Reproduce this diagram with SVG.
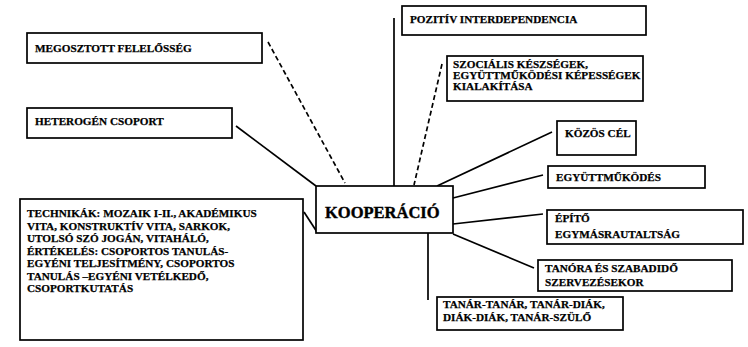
<svg xmlns="http://www.w3.org/2000/svg" width="748" height="347" viewBox="0 0 748 347">
<style>
.box{fill:#fff;stroke:#000;stroke-width:1.7}
.t{font-family:"Liberation Serif","Times New Roman",serif;font-weight:bold;font-size:11.2px;fill:#000;stroke:#000;stroke-width:0.25}
.big{font-size:16.5px;stroke-width:0.4}
.c{stroke:#000;stroke-width:1.7;fill:none}
.d{stroke-dasharray:5 3}
</style>
<rect width="748" height="347" fill="#fff"/>
<g id="connectors">
<line class="c d" x1="268" y1="42" x2="345" y2="183"/>
<line class="c" x1="236" y1="126" x2="316" y2="186"/>
<line class="c" x1="304" y1="212" x2="317" y2="232"/>
<line class="c" x1="394" y1="18" x2="394" y2="186"/>
<line class="c d" x1="442" y1="64" x2="414" y2="185"/>
<line class="c" x1="552" y1="132" x2="437" y2="186"/>
<line class="c" x1="543" y1="175" x2="453" y2="198"/>
<line class="c" x1="543" y1="214" x2="453" y2="224"/>
<line class="c" x1="453" y1="234" x2="534" y2="268"/>
<line class="c" x1="428" y1="233" x2="428" y2="300"/>
</g>
<g id="kooperacio">
<rect class="box" x="316" y="186" width="137" height="47"/>
<text class="t big" x="325" y="218">KOOPERÁCIÓ</text>
</g>
<g id="megosztott">
<rect class="box" x="27" y="33" width="235" height="30"/>
<text class="t" x="35" y="52">MEGOSZTOTT FELELŐSSÉG</text>
</g>
<g id="heterogen">
<rect class="box" x="27" y="108" width="205" height="30"/>
<text class="t" x="35" y="125">HETEROGÉN CSOPORT</text>
</g>
<g id="technikak">
<rect class="box" x="20" y="199" width="283" height="141"/>
<text class="t" x="27" y="217">TECHNIKÁK: MOZAIK I-II., AKADÉMIKUS</text>
<text class="t" x="27" y="229.5">VITA, KONSTRUKTÍV VITA, SARKOK,</text>
<text class="t" x="27" y="242">UTOLSÓ SZÓ JOGÁN, VITAHÁLÓ,</text>
<text class="t" x="27" y="254.5">ÉRTÉKELÉS: CSOPORTOS TANULÁS-</text>
<text class="t" x="27" y="267">EGYÉNI TELJESÍTMÉNY, CSOPORTOS</text>
<text class="t" x="27" y="279.5">TANULÁS –EGYÉNI VETÉLKEDŐ,</text>
<text class="t" x="27" y="292">CSOPORTKUTATÁS</text>
</g>
<g id="pozitiv">
<rect class="box" x="402" y="6" width="244" height="29"/>
<text class="t" x="410" y="23">POZITÍV INTERDEPENDENCIA</text>
</g>
<g id="szocialis">
<rect class="box" x="447" y="56" width="196" height="45"/>
<text class="t" x="453" y="68">SZOCIÁLIS KÉSZSÉGEK,</text>
<text class="t" x="453" y="79">EGYÜTTMŰKÖDÉSI KÉPESSÉGEK</text>
<text class="t" x="453" y="90">KIALAKÍTÁSA</text>
</g>
<g id="kozos">
<rect class="box" x="557" y="121" width="79" height="34"/>
<text class="t" x="565" y="137">KÖZÖS CÉL</text>
</g>
<g id="egyuttmukodes">
<rect class="box" x="548" y="166" width="157" height="22"/>
<text class="t" x="556" y="181">EGYÜTTMŰKÖDÉS</text>
</g>
<g id="epito">
<rect class="box" x="547" y="210" width="196" height="34"/>
<text class="t" x="555" y="222">ÉPÍTŐ</text>
<text class="t" x="555" y="238">EGYMÁSRAUTALTSÁG</text>
</g>
<g id="tanora">
<rect class="box" x="538" y="260" width="194" height="31"/>
<text class="t" x="545" y="272">TANÓRA ÉS SZABADIDŐ</text>
<text class="t" x="545" y="286">SZERVEZÉSEKOR</text>
</g>
<g id="tanar">
<rect class="box" x="437" y="297" width="186" height="33"/>
<text class="t" x="443" y="308">TANÁR-TANÁR, TANÁR-DIÁK,</text>
<text class="t" x="443" y="321">DIÁK-DIÁK, TANÁR-SZÜLŐ</text>
</g>
</svg>
